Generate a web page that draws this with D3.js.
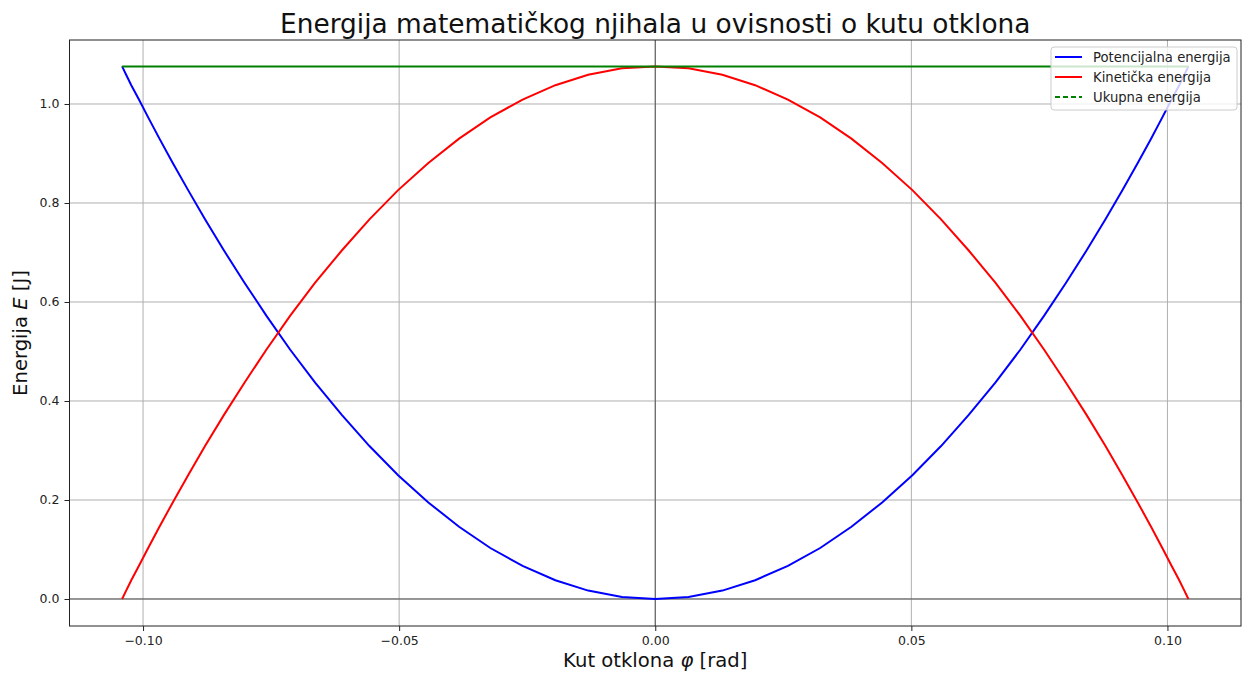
<!DOCTYPE html>
<html>
<head>
<meta charset="utf-8">
<script src="https://cdn.jsdelivr.net/npm/d3@7/dist/d3.min.js"></script>
<style>
  body { margin: 0; background: #fff; }
  text { font-family: "DejaVu Sans", sans-serif; }
</style>
</head>
<body>
<div id="chart"></div>
<script>
// kut otklona (rad) - sample points (denser near the turning points)
var phi = [-0.1041, -0.1039, -0.1033, -0.1023, -0.1008, -0.0990, -0.0968, -0.0942,
           -0.0912, -0.0879, -0.0842, -0.0802, -0.0759, -0.0713, -0.0664, -0.0612,
           -0.0558, -0.0502, -0.0443, -0.0383, -0.0322, -0.0259, -0.0195, -0.0131,
           -0.0065,  0.0000,
            0.0065,  0.0131,  0.0195,  0.0259,  0.0322,  0.0383,  0.0443,  0.0502,
            0.0558,  0.0612,  0.0664,  0.0713,  0.0759,  0.0802,  0.0842,  0.0879,
            0.0912,  0.0942,  0.0968,  0.0990,  0.1008,  0.1023,  0.1033,  0.1039,
            0.1041];
var potencijalna = [1.076, 1.072, 1.059, 1.038, 1.009, 0.973, 0.930, 0.881,
                    0.826, 0.767, 0.704, 0.639, 0.572, 0.504, 0.437, 0.372,
                    0.309, 0.250, 0.195, 0.146, 0.103, 0.067, 0.038, 0.017,
                    0.004, 0.000,
                    0.004, 0.017, 0.038, 0.067, 0.103, 0.146, 0.195, 0.250,
                    0.309, 0.372, 0.437, 0.504, 0.572, 0.639, 0.704, 0.767,
                    0.826, 0.881, 0.930, 0.973, 1.009, 1.038, 1.059, 1.072,
                    1.076];
var kineticka = [0.000, 0.004, 0.017, 0.038, 0.067, 0.103, 0.146, 0.195,
                 0.250, 0.309, 0.372, 0.437, 0.504, 0.572, 0.639, 0.704,
                 0.767, 0.826, 0.881, 0.930, 0.973, 1.009, 1.038, 1.059,
                 1.072, 1.076,
                 1.072, 1.059, 1.038, 1.009, 0.973, 0.930, 0.881, 0.826,
                 0.767, 0.704, 0.639, 0.572, 0.504, 0.437, 0.372, 0.309,
                 0.250, 0.195, 0.146, 0.103, 0.067, 0.038, 0.017, 0.004,
                 0.000];
var ukupna = [1.076, 1.076, 1.076, 1.076, 1.076, 1.076, 1.076, 1.076,
              1.076, 1.076, 1.076, 1.076, 1.076, 1.076, 1.076, 1.076,
              1.076, 1.076, 1.076, 1.076, 1.076, 1.076, 1.076, 1.076,
              1.076, 1.076,
              1.076, 1.076, 1.076, 1.076, 1.076, 1.076, 1.076, 1.076,
              1.076, 1.076, 1.076, 1.076, 1.076, 1.076, 1.076, 1.076,
              1.076, 1.076, 1.076, 1.076, 1.076, 1.076, 1.076, 1.076,
              1.076];
var xTicks = [-0.10, -0.05, 0.00, 0.05, 0.10];
var yTicks = [0.0, 0.2, 0.4, 0.6, 0.8, 1.0];
var seriesNames = ["Potencijalna energija", "Kinetička energija", "Ukupna energija"];

var width = 1242, height = 675;
var margin = {top: 40, right: 1, bottom: 49, left: 69.5};

var svg = d3.select("#chart").append("svg")
    .attr("width", width)
    .attr("height", height);

var x = d3.scaleLinear()
    .domain([-0.11436, 0.11436])
    .range([margin.left, width - margin.right]);
var y = d3.scaleLinear()
    .domain([-0.05455, 1.12929])
    .range([height - margin.bottom, margin.top]);

var fmtX = function (d) { return d3.format(".2f")(d).replace("-", "\u2212"); };
var fmtY = d3.format(".1f");

// grid
svg.append("g").selectAll("line").data(xTicks).enter().append("line")
    .attr("x1", function (d) { return x(d); })
    .attr("x2", function (d) { return x(d); })
    .attr("y1", margin.top).attr("y2", height - margin.bottom)
    .style("stroke", "#b0b0b0").style("stroke-width", 1);
svg.append("g").selectAll("line").data(yTicks).enter().append("line")
    .attr("y1", function (d) { return y(d); })
    .attr("y2", function (d) { return y(d); })
    .attr("x1", margin.left).attr("x2", width - margin.right)
    .style("stroke", "#b0b0b0").style("stroke-width", 1);

// axhline / axvline na nuli
svg.append("line")
    .attr("x1", margin.left).attr("x2", width - margin.right)
    .attr("y1", y(0)).attr("y2", y(0))
    .style("stroke", "#555").style("stroke-width", 1);
svg.append("line")
    .attr("x1", x(0)).attr("x2", x(0))
    .attr("y1", margin.top).attr("y2", height - margin.bottom)
    .style("stroke", "#555").style("stroke-width", 1);

// lines
var line = function (vals) {
    return d3.line()
        .x(function (d, i) { return x(phi[i]); })
        .y(function (d) { return y(d); })(vals);
};

svg.append("path").attr("d", line(potencijalna))
    .style("fill", "none").style("stroke", "blue").style("stroke-width", 2);
svg.append("path").attr("d", line(kineticka))
    .style("fill", "none").style("stroke", "red").style("stroke-width", 2);
svg.append("path").attr("d", line(ukupna))
    .style("fill", "none").style("stroke", "green").style("stroke-width", 2);

// axes
var xAxis = svg.append("g")
    .attr("transform", "translate(0," + (height - margin.bottom) + ")")
    .call(d3.axisBottom(x).tickValues(xTicks).tickFormat(fmtX).tickSize(5).tickPadding(5));
var yAxis = svg.append("g")
    .attr("transform", "translate(" + margin.left + ",0)")
    .call(d3.axisLeft(y).tickValues(yTicks).tickFormat(fmtY).tickSize(5).tickPadding(5));
[xAxis, yAxis].forEach(function (a) {
    a.select(".domain").remove();
    a.selectAll("text").style("font-size", "12.5px").style("fill", "#222")
        .style("font-family", "DejaVu Sans, sans-serif");
    a.selectAll("line").style("stroke", "#222");
});

// frame
svg.append("rect")
    .attr("x", margin.left).attr("y", margin.top)
    .attr("width", width - margin.right - margin.left)
    .attr("height", height - margin.bottom - margin.top)
    .style("fill", "none").style("stroke", "#222").style("stroke-width", 1);

// title and labels
svg.append("text")
    .attr("x", x(0)).attr("y", 33)
    .attr("text-anchor", "middle")
    .style("font-size", "26.4px").style("fill", "#111")
    .text("Energija matematičkog njihala u ovisnosti o kutu otklona");

var xl = svg.append("text")
    .attr("x", x(0)).attr("y", 667)
    .attr("text-anchor", "middle")
    .style("font-size", "19.6px").style("fill", "#111");
xl.append("tspan").text("Kut otklona ");
xl.append("tspan").style("font-style", "italic").text("φ");
xl.append("tspan").text(" [rad]");

var yl = svg.append("text")
    .attr("transform", "translate(27," + ((margin.top + height - margin.bottom) / 2) + ") rotate(-90)")
    .attr("text-anchor", "middle")
    .style("font-size", "19.6px").style("fill", "#111");
yl.append("tspan").text("Energija ");
yl.append("tspan").style("font-style", "italic").text("E");
yl.append("tspan").text(" [J]");

// legend
var legend = svg.append("g").attr("transform", "translate(1051,47)");
legend.append("rect")
    .attr("width", 186).attr("height", 63).attr("rx", 3)
    .style("fill", "white").style("fill-opacity", 0.8)
    .style("stroke", "#ccc").style("stroke-width", 1);
var legColors = ["blue", "red", "green"];
var legDash = [null, null, "5,3"];
seriesNames.forEach(function (name, i) {
    var ly = 10 + i * 20;
    legend.append("line")
        .attr("x1", 4).attr("x2", 31).attr("y1", ly).attr("y2", ly)
        .style("stroke", legColors[i]).style("stroke-width", 2)
        .style("stroke-dasharray", legDash[i]);
    legend.append("text")
        .attr("x", 42).attr("y", ly + 4.5)
        .style("font-size", "13.2px").style("fill", "#222")
        .text(name);
});
</script>
</body>
</html>
